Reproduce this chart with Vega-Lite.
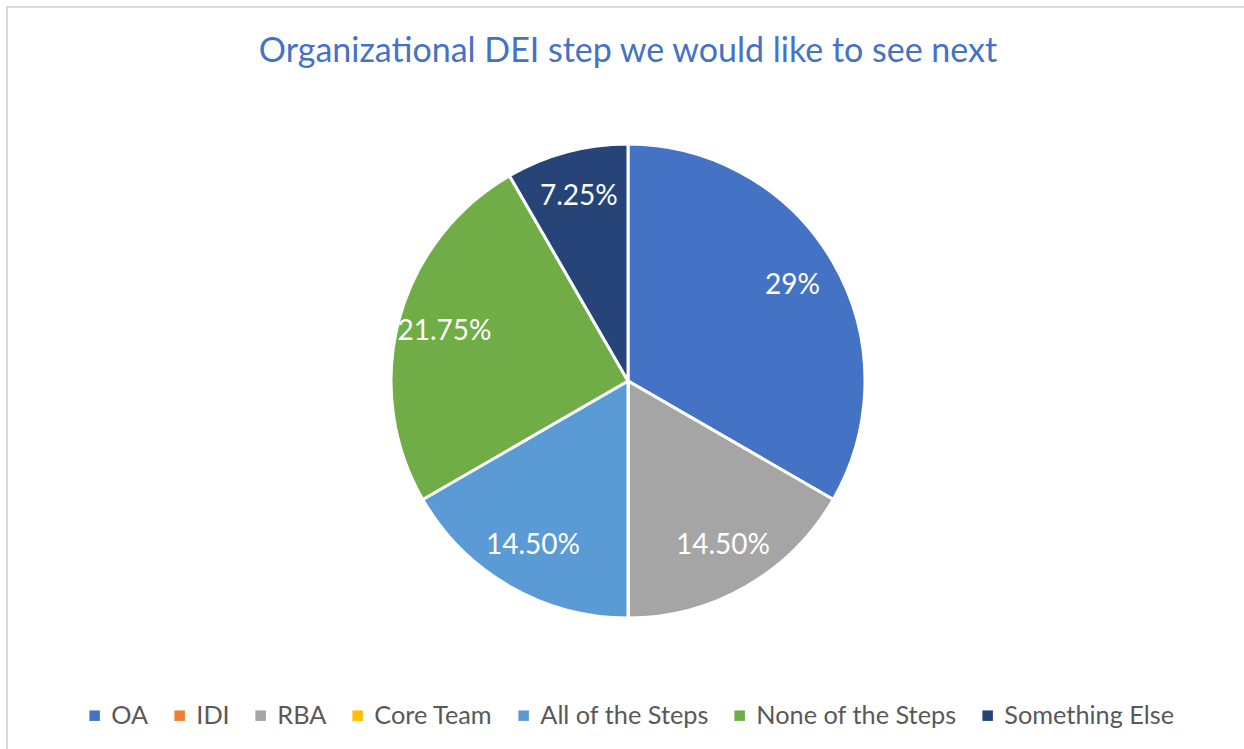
{
  "$schema": "https://vega.github.io/schema/vega-lite/v6.json",
  "width": 1242,
  "height": 748,
  "padding": {"left": 6, "top": 6, "right": 0, "bottom": 0},
  "background": "white",
  "title": {
    "text": "Organizational DEI step we would like to see next",
    "font": "Lato",
    "fontSize": 34,
    "fontWeight": "normal",
    "color": "#4472C4",
    "anchor": "middle",
    "baseline": "alphabetic",
    "offset": -90
  },
  "data": {
    "values": [
      {"category": "OA", "value": 29, "label": "29%", "idx": 1},
      {"category": "IDI", "value": 0, "label": "", "idx": 2},
      {"category": "RBA", "value": 14.5, "label": "14.50%", "idx": 3},
      {"category": "Core Team", "value": 0, "label": "", "idx": 4},
      {"category": "All of the Steps", "value": 14.5, "label": "14.50%", "idx": 5},
      {"category": "None of the Steps", "value": 21.75, "label": "21.75%", "idx": 6},
      {"category": "Something Else", "value": 7.25, "label": "7.25%", "idx": 7}
    ]
  },
  "layer": [
    {
      "data": {"values": [{"frame": 1}]},
      "mark": {"type": "rect", "fill": null, "stroke": "#d9d9d9", "strokeWidth": 2},
      "encoding": {}
    },
    {
      "mark": {"type": "arc", "outerRadius": 237, "stroke": "white", "strokeWidth": 3},
      "encoding": {
        "theta": {"field": "value", "type": "quantitative", "stack": true},
        "order": {"field": "idx", "type": "quantitative"},
        "color": {
          "field": "category",
          "type": "nominal",
          "sort": ["OA", "IDI", "RBA", "Core Team", "All of the Steps", "None of the Steps", "Something Else"],
          "scale": {
            "domain": ["OA", "IDI", "RBA", "Core Team", "All of the Steps", "None of the Steps", "Something Else"],
            "range": ["#4472C4", "#ED7D31", "#A5A5A5", "#FFC000", "#5B9BD5", "#70AD47", "#264478"]
          },
          "legend": {
            "orient": "bottom",
            "direction": "horizontal",
            "title": null,
            "symbolType": "square",
            "symbolSize": 110,
            "symbolStrokeWidth": 0,
            "labelFont": "Lato",
            "labelFontSize": 25.3,
            "labelColor": "#595959",
            "labelLimit": 400,
            "columnPadding": 18,
            "offset": -52
          }
        }
      }
    },
    {
      "mark": {"type": "text", "radius": 190, "font": "Lato", "fontSize": 28, "fill": "white", "baseline": "middle", "align": "center"},
      "encoding": {
        "theta": {"field": "value", "type": "quantitative", "stack": true},
        "order": {"field": "idx", "type": "quantitative"},
        "text": {"field": "label", "type": "nominal"}
      }
    }
  ],
  "config": {
    "view": {"stroke": null},
    "legend": {"layout": {"bottom": {"anchor": "middle"}}}
  }
}
